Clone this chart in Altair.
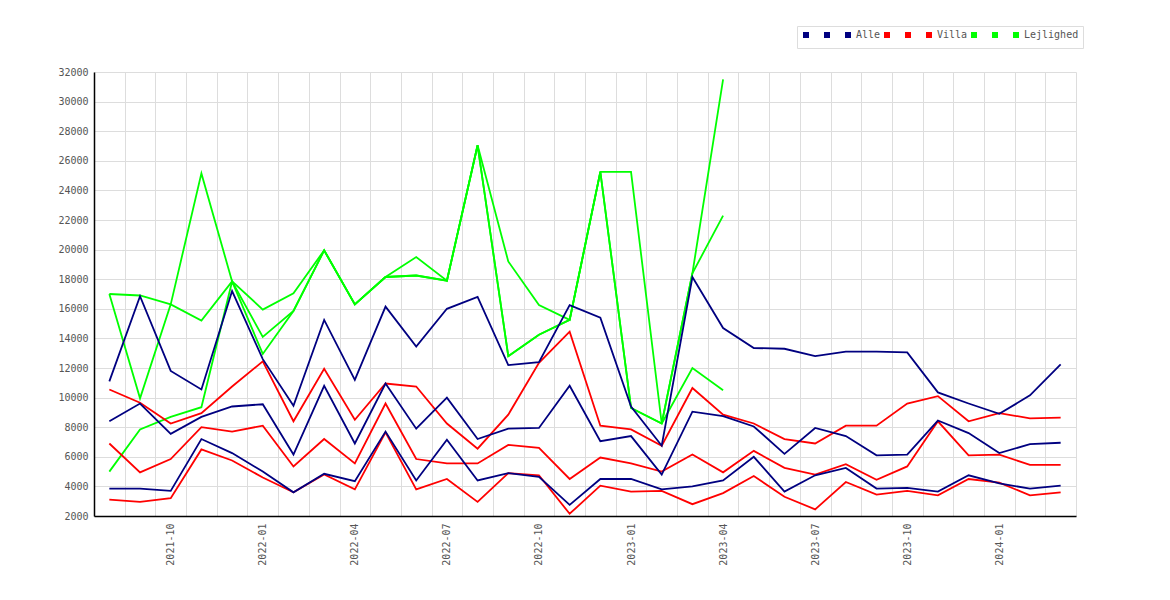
import altair as alt
import pandas as pd

months = [
    "2021-08", "2021-09", "2021-10", "2021-11", "2021-12", "2022-01", "2022-02", "2022-03",
    "2022-04", "2022-05", "2022-06", "2022-07", "2022-08", "2022-09", "2022-10", "2022-11",
    "2022-12", "2023-01", "2023-02", "2023-03", "2023-04", "2023-05", "2023-06", "2023-07",
    "2023-08", "2023-09", "2023-10", "2023-11", "2023-12", "2024-01", "2024-02", "2024-03",
]

alle_hi = [11100, 16850, 11800, 10550, 17200, 12600, 9450, 15250, 11200, 16150, 13450, 16000,
           16800, 12200, 12400, 16250, 15400, 9400, 6750, 18150, 14700, 13350, 13300, 12800,
           13100, 13100, 13050, 10350, 9600, 8900, 10150, 12250]
alle_mid = [8400, 9600, 7550, 8700, 9400, 9550, 6150, 10800, 6900, 10950, 7900, 10000,
            7200, 7900, 7950, 10800, 7050, 7400, 4800, 9050, 8750, 8050, 6200, 7950,
            7400, 6100, 6150, 8450, 7600, 6250, 6850, 6950]
alle_lo = [3850, 3850, 3700, 7200, 6250, 5000, 3600, 4850, 4350, 7700, 4400, 7150,
           4400, 4900, 4650, 2750, 4500, 4500, 3800, 4000, 4400, 6000, 3650, 4750,
           5250, 3850, 3900, 3650, 4750, 4200, 3850, 4050]

villa_hi = [10550, 9650, 8250, 8950, 10750, 12450, 8400, 11950, 8500, 10950, 10750, 8250,
            6550, 8850, 12350, 14450, 8100, 7850, 6750, 10650, 8850, 8250, 7200, 6900,
            8100, 8100, 9600, 10100, 8400, 8950, 8600, 8650]
villa_mid = [6900, 4950, 5850, 8000, 7700, 8100, 5350, 7200, 5550, 9600, 5850, 5550,
             5550, 6800, 6600, 4500, 5950, 5550, 5000, 6150, 4950, 6400, 5250, 4800,
             5500, 4450, 5350, 8400, 6100, 6150, 5450, 5450]
villa_lo = [3100, 2950, 3200, 6500, 5750, 4600, 3600, 4800, 3800, 7650, 3800, 4500,
            2950, 4900, 4750, 2150, 4050, 3650, 3700, 2800, 3550, 4700, 3300, 2450,
            4300, 3450, 3700, 3400, 4500, 4250, 3400, 3600]

lej_1 = [17000, 9950, 16300, 25150, 17850, 14100, 15850, 19950, 16300, 18150, 18250, 17900,
         27050, 12800, 14250, 15250, 25250, 25250, 8250, 18400, 31500]
lej_2 = [17000, 16900, 16300, 15200, 17850, 15950, 17050, 19950, 16300, 18150, 19500, 17900,
         27050, 19200, 16250, 15250, 25250, 9300, 8250, 18400, 22300]
lej_3 = [5000, 7850, 8700, 9350, 17850, 12950, 15850, 19950, 16300, 18150, 18250, 17900,
         27050, 12800, 14250, 15250, 25250, 9300, 8250, 12000, 10500]

series_names = ["Alle1", "Alle2", "Alle", "Villa1", "Villa2", "Villa",
                "Lejlighed1", "Lejlighed2", "Lejlighed"]
series_colors = ["#000080"] * 3 + ["#ff0000"] * 3 + ["#00ff00"] * 3

# draw order: Lejlighed first, then Villa, then Alle on top
series = [
    ("Lejlighed1", lej_1), ("Lejlighed2", lej_2), ("Lejlighed", lej_3),
    ("Villa1", villa_hi), ("Villa2", villa_mid), ("Villa", villa_lo),
    ("Alle1", alle_hi), ("Alle2", alle_mid), ("Alle", alle_lo),
]

rows = []
for name, vals in series:
    for m, v in zip(months, vals):
        rows.append({"month": m, "value": v, "series": name})
df = pd.DataFrame(rows)

FONT = "DejaVu Sans Mono"
GRID = "#dddddd"
LABEL = "#555555"

x_enc = alt.X(
    "month:O",
    sort=months,
    bandPosition=0.5,
    scale=alt.Scale(type="band", paddingInner=0, paddingOuter=0),
    axis=alt.Axis(
        title=None,
        labelAngle=270,
        labelExpr="indexof(['01','04','07','10'], substring(datum.label, 5, 7)) >= 0 ? datum.label : ''",
        tickBand="extent",
        ticks=False,
        grid=True,
        gridColor=GRID,
        gridWidth=1,
        domainColor="#000000",
        domainWidth=1.5,
        labelFont=FONT,
        labelFontSize=10,
        labelColor=LABEL,
        labelPadding=7,
    ),
)

y_enc = alt.Y(
    "value:Q",
    scale=alt.Scale(domain=[2000, 32000], nice=False, zero=False),
    axis=alt.Axis(
        title=None,
        values=list(range(2000, 32001, 2000)),
        format="d",
        ticks=False,
        grid=True,
        gridColor=GRID,
        gridWidth=1,
        domainColor="#000000",
        domainWidth=1.5,
        labelFont=FONT,
        labelFontSize=10,
        labelColor=LABEL,
        labelPadding=6,
    ),
)

lines = alt.Chart(df).mark_line(strokeWidth=1.8).encode(
    x=x_enc,
    y=y_enc,
    color=alt.Color(
        "series:N",
        sort=series_names,
        scale=alt.Scale(domain=series_names, range=series_colors),
        legend=alt.Legend(
            title=None,
            orient="none",
            legendX=703,
            legendY=-46,
            direction="horizontal",
            symbolType="square",
            symbolSize=4,
            symbolStrokeWidth=4,
            labelFont=FONT,
            labelFontSize=10,
            labelColor=LABEL,
            labelOffset=3,
            columnPadding=-3,
            padding=4,
            strokeColor=GRID,
            fillColor="#ffffff",
            labelExpr="(indexof(datum.label, '1') >= 0 || indexof(datum.label, '2') >= 0) ? '\u2800 ' : datum.label",
        ),
    ),
    detail="series:N",
)

chart = (
    lines
    .properties(
        width=982,
        height=444,
        autosize=alt.AutoSizeParams(type="none"),
        padding={"left": 86, "top": 64, "right": 80, "bottom": 70},
        background="#ffffff",
    )
    .configure_view(strokeWidth=0)
)

chart.save("out.html", embed_options={"renderer": "svg", "actions": False})
